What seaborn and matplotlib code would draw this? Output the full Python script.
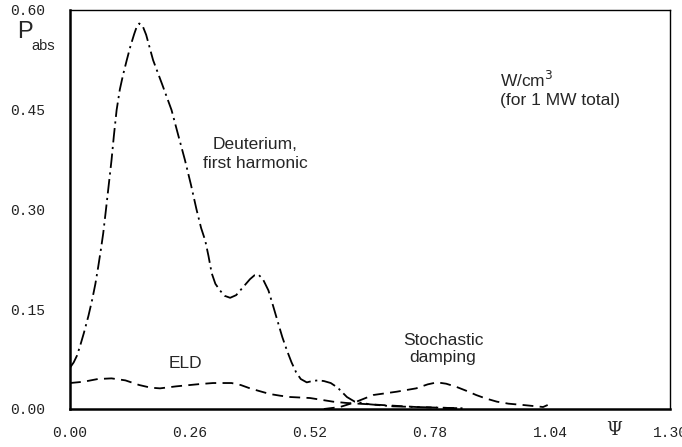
import matplotlib
matplotlib.use("Agg")
import matplotlib.pyplot as plt
import seaborn as sns
import pandas as pd

# ---- data ----
deut_psi = [0.000, 0.008, 0.015, 0.022, 0.030, 0.040, 0.048, 0.055, 0.061, 0.067,
            0.072, 0.078, 0.084, 0.090, 0.095, 0.101, 0.108, 0.115, 0.123, 0.131,
            0.139, 0.145, 0.150, 0.157, 0.165, 0.180, 0.200, 0.220, 0.235, 0.249,
            0.262, 0.274, 0.284, 0.293, 0.300, 0.307, 0.315, 0.325, 0.335, 0.347,
            0.360, 0.375, 0.390, 0.400, 0.408, 0.418, 0.430, 0.440, 0.451, 0.460,
            0.470, 0.480, 0.490, 0.500, 0.513, 0.525, 0.537, 0.550, 0.565, 0.580,
            0.590, 0.600, 0.617, 0.650, 0.700, 0.750, 0.800, 0.850]
deut_val = [0.062, 0.070, 0.080, 0.095, 0.114, 0.140, 0.164, 0.188, 0.213, 0.240,
            0.264, 0.300, 0.337, 0.374, 0.410, 0.449, 0.480, 0.502, 0.524, 0.545,
            0.563, 0.575, 0.579, 0.576, 0.562, 0.524, 0.487, 0.449, 0.410, 0.374,
            0.337, 0.300, 0.272, 0.253, 0.230, 0.204, 0.188, 0.178, 0.170, 0.167,
            0.171, 0.183, 0.195, 0.201, 0.202, 0.195, 0.178, 0.155, 0.129, 0.108,
            0.088, 0.070, 0.055, 0.045, 0.040, 0.042, 0.043, 0.042, 0.039, 0.032,
            0.025, 0.018, 0.011, 0.007, 0.004, 0.003, 0.002, 0.001]

eld_psi = [0.000, 0.030, 0.060, 0.090, 0.120, 0.150, 0.175, 0.195, 0.230, 0.282,
           0.310, 0.350, 0.370, 0.390, 0.410, 0.433, 0.455, 0.477, 0.520, 0.570,
           0.600, 0.650, 0.700, 0.750, 0.800, 0.850]
eld_val = [0.039, 0.041, 0.045, 0.046, 0.043, 0.036, 0.032, 0.031, 0.034, 0.0375,
           0.039, 0.039, 0.036, 0.031, 0.027, 0.0225, 0.020, 0.018, 0.0165, 0.011,
           0.009, 0.007, 0.005, 0.003, 0.002, 0.001]

stoch_psi = [0.550, 0.585, 0.617, 0.657, 0.708, 0.750, 0.775, 0.795, 0.815, 0.838,
             0.860, 0.880, 0.900, 0.925, 0.950, 0.982, 1.025, 1.035]
stoch_val = [0.000, 0.003, 0.010, 0.021, 0.026, 0.031, 0.037, 0.040, 0.038, 0.033,
             0.027, 0.021, 0.016, 0.011, 0.008, 0.006, 0.003, 0.006]

x_ticks = [0.00, 0.26, 0.52, 0.78, 1.04, 1.30]
y_ticks = [0.00, 0.15, 0.30, 0.45, 0.60]

# ---- figure ----
sns.set_style("white")
plt.rcParams['font.family'] = ['Liberation Sans', 'DejaVu Sans']

W, H = 682, 447
fig = plt.figure(figsize=(W / 100, H / 100), dpi=100)
ax = fig.add_axes([70 / W, 1 - 409 / H, 600 / W, 399.5 / H])

deut = pd.DataFrame({"psi": deut_psi, "P": deut_val})
eld = pd.DataFrame({"psi": eld_psi, "P": eld_val})
stoch = pd.DataFrame({"psi": stoch_psi, "P": stoch_val})

sns.lineplot(data=deut, x="psi", y="P", ax=ax, color="black", lw=1.3,
             sort=False, estimator=None, linestyle=(0, (8, 2.5, 1.2, 2.5)))
sns.lineplot(data=eld, x="psi", y="P", ax=ax, color="black", lw=1.3,
             sort=False, estimator=None, linestyle=(0, (6, 3.5)))
sns.lineplot(data=stoch, x="psi", y="P", ax=ax, color="black", lw=1.3,
             sort=False, estimator=None, linestyle=(0, (6, 3.5)))

ax.set_xlim(0, 1.30)
ax.set_ylim(0, 0.60)
ax.set_xticks(x_ticks)
ax.set_yticks(y_ticks)
ax.set_xticklabels([f"{v:.2f}" for v in x_ticks], family="Liberation Mono", fontsize=10.5)
ax.set_yticklabels([f"{v:.2f}" for v in y_ticks], family="Liberation Mono", fontsize=10.5)
ax.set_xlabel("")
ax.set_ylabel("")
ax.tick_params(axis="both", direction="inout", length=12, width=1, color="black",
               labelcolor="#222222")
ax.tick_params(axis="y", pad=12)
ax.tick_params(axis="x", pad=6)

for s in ["left", "bottom"]:
    ax.spines[s].set_linewidth(1.8)
for s in ["top", "right"]:
    ax.spines[s].set_linewidth(1.0)
for s in ax.spines.values():
    s.set_color("black")
    s.set_visible(True)

def px(x, y):
    return x / W, 1 - y / H

fs = 12.5
fig.text(*px(17, 38), "P", fontsize=17, ha="left", va="baseline")
fig.text(*px(31, 50), "abs", fontsize=10.5, ha="left", va="baseline")
fig.text(*px(255, 154), "Deuterium,\nfirst harmonic", fontsize=fs, ha="center",
         va="center", linespacing=1.35)
fig.text(*px(500, 80), "W/cm$^3$", fontsize=fs, ha="left", va="center")
fig.text(*px(500, 101), "(for 1 MW total)", fontsize=fs, ha="left", va="center")
fig.text(*px(185, 364), "ELD", fontsize=fs, ha="center", va="center")
fig.text(*px(443, 349), "Stochastic\ndamping", fontsize=fs, ha="center",
         va="center", linespacing=1.1)
fig.text(*px(614, 430), "Ψ", fontsize=13, ha="center", va="center",
         family="DejaVu Serif")

fig.savefig("out.png", dpi=100)
